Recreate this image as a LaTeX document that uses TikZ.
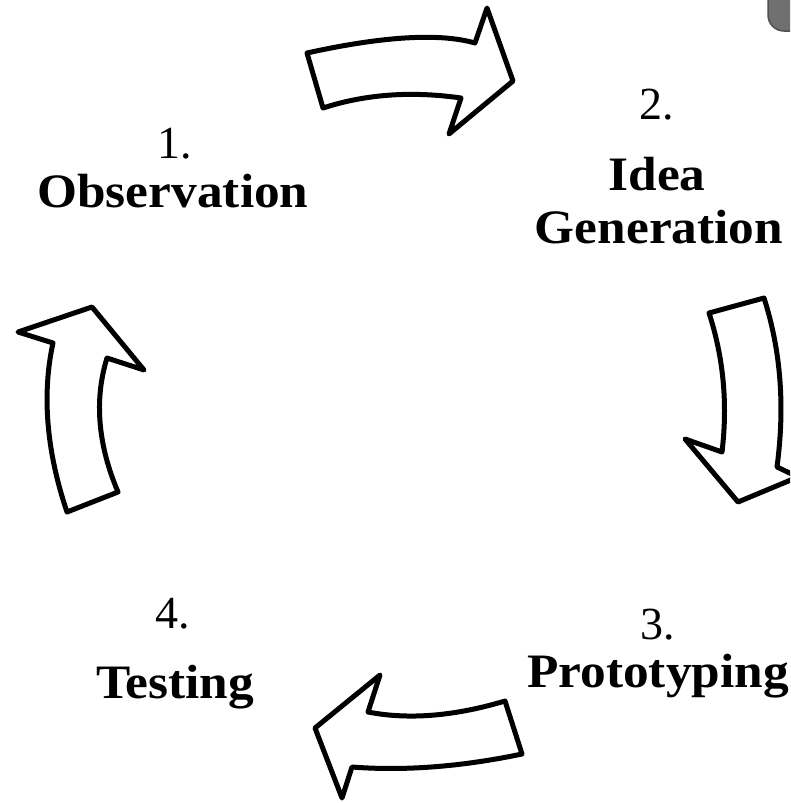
\documentclass[tikz,border=0pt]{standalone}
\usepackage{fontspec}
\setmainfont{Liberation Serif}
\newfontfamily\boldlabelfont[FakeStretch=1.07]{Liberation Serif}
\begin{document}
\begin{tikzpicture}[x=1pt,y=-1pt,
  cyclearrow/.style={draw=black,line width=5pt,line join=round,fill=white},
  numtext/.style={anchor=base,inner sep=0pt,font=\fontsize{46}{50}\selectfont},
  steptext/.style={anchor=base,inner sep=0pt,font=\boldlabelfont\fontsize{48}{52}\selectfont\bfseries}]
\useasboundingbox (0,0) rectangle (790,803);
\fill[white] (0,0) rectangle (790,803);
\begin{scope}
\clip (0,0) rectangle (790,803);
% gray corner shape
\draw[fill={rgb,255:red,112;green,112;blue,112},draw={rgb,255:red,80;green,80;blue,80},line width=1.5pt,rounded corners=16pt]
  (800,-40) -- (768,-40) -- (768,31) -- (800,31);
% arrow 1 (top)
\draw[cyclearrow] (307,53) .. controls (384,36) and (440,33) .. (475,43)
  -- (487,8) -- (513,81) -- (449,134) -- (461,98)
  .. controls (412,91) and (366,94) .. (323,108) -- cycle;
% arrow 2 (right)
\draw[cyclearrow] (709,313) -- (764,298)
  .. controls (781,351) and (785,407) .. (777,467)
  -- (798,477) -- (738,502) -- (685,439) -- (722,452)
  .. controls (728,402) and (723,356) .. (709,313) -- cycle;
% arrow 3 (bottom)
\draw[cyclearrow] (505,701) .. controls (455,716) and (409,720) .. (368,712)
  -- (380,675) -- (315,728) -- (342,798) -- (352,767)
  .. controls (403,771) and (460,767) .. (522,754) -- cycle;
% arrow 4 (left)
\draw[cyclearrow] (67,512) -- (118,492)
  .. controls (98,445) and (94,400) .. (107,358)
  -- (144,370) -- (92,307) -- (18,332) -- (53,343)
  .. controls (42,393) and (46,450) .. (67,512) -- cycle;
\end{scope}
% labels
\node[numtext] (n1) at (175,158) {1.};
\node[steptext] (s1) at (173,207) {Observation};
\node[numtext] (n2) at (657,119) {2.};
\node[steptext] (s2a) at (657,190) {Idea};
\node[steptext] (s2b) at (659,243) {Generation};
\node[numtext] (n3) at (658,639) {3.};
\node[steptext] (s3) at (658,687) {Prototyping};
\node[numtext] (n4) at (173,628) {4.};
\node[steptext] (s4) at (175,698) {Testing};
\end{tikzpicture}
\end{document}
